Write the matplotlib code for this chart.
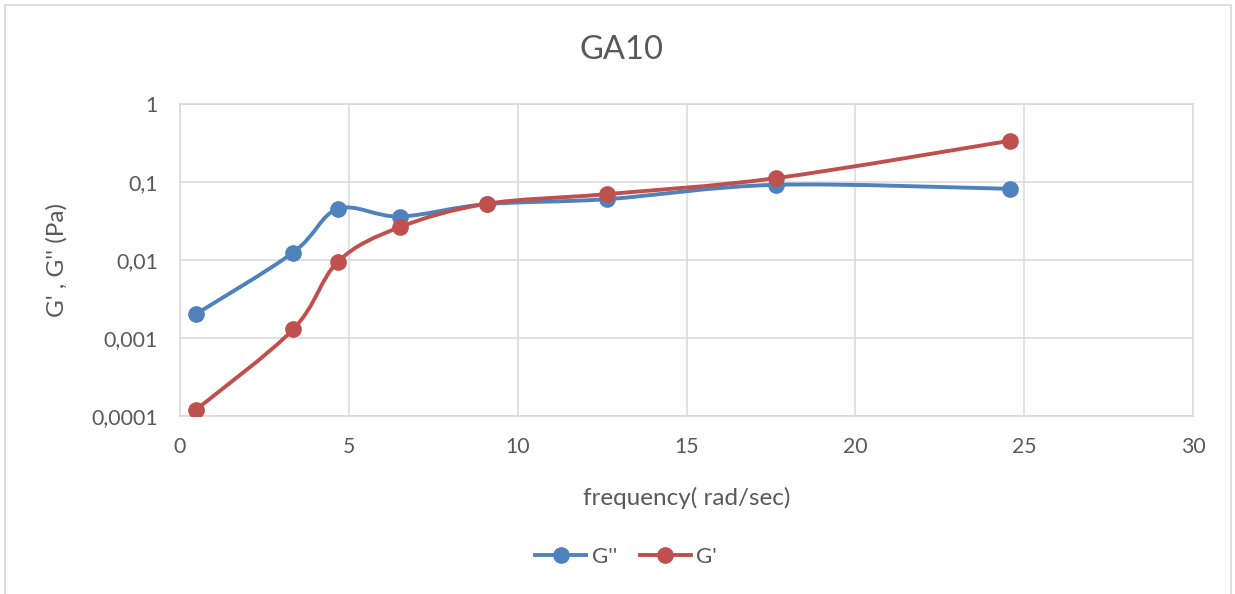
import numpy as np
import matplotlib
matplotlib.use("Agg")
import matplotlib.pyplot as plt
from matplotlib.path import Path
from matplotlib.patches import PathPatch, Rectangle
from matplotlib.lines import Line2D

# data
freq = [0.46, 3.35, 4.68, 6.51, 9.08, 12.65, 17.64, 24.58]
g2 = [0.00201, 0.01245, 0.0453, 0.0361, 0.0520, 0.0603, 0.092, 0.0818]     # G''
g1 = [0.000119, 0.00129, 0.00955, 0.0264, 0.0525, 0.070, 0.112, 0.338]      # G'
yticks = [0.0001, 0.001, 0.01, 0.1, 1]
ytick_labels = ["0,0001", "0,001", "0,01", "0,1", "1"]
xticks = [0, 5, 10, 15, 20, 25, 30]

blue = "#4F81BD"
red = "#C0504D"
grey = "#595959"

plt.rcParams["font.family"] = ["Lato", "DejaVu Sans"]


def smooth_path(x, y):
    # Excel style smoothed line: cubic bezier through points (log y space)
    px = np.array(x, dtype=float)
    py = np.log10(np.array(y, dtype=float))
    n = len(px)
    verts = [(px[0], py[0])]
    codes = [Path.MOVETO]
    for i in range(n - 1):
        i0 = max(i - 1, 0)
        i3 = min(i + 2, n - 1)
        c1 = (px[i] + (px[i + 1] - px[i0]) / 6, py[i] + (py[i + 1] - py[i0]) / 6)
        c2 = (px[i + 1] - (px[i3] - px[i]) / 6, py[i + 1] - (py[i3] - py[i]) / 6)
        verts += [c1, c2, (px[i + 1], py[i + 1])]
        codes += [Path.CURVE4] * 3
    verts = np.array(verts)
    verts[:, 1] = 10 ** verts[:, 1]
    return Path(verts, codes)


fig = plt.figure(figsize=(12.35, 5.94), dpi=100)
ax = fig.add_axes([180 / 1235, 1 - 416 / 594, 1013 / 1235, 312 / 594])

ax.set_yscale("log")
ax.set_xlim(0, 30)
ax.set_ylim(0.0001, 1)
ax.set_yticks(yticks)
ax.set_yticklabels(ytick_labels)
ax.yaxis.set_minor_locator(matplotlib.ticker.NullLocator())
ax.set_xticks(xticks)
ax.tick_params(length=0, labelsize=15.3, colors=grey)
ax.tick_params(axis="y", pad=16)
ax.tick_params(axis="x", pad=15)
ax.grid(True, color="#D9D9D9", lw=1.1)
ax.set_axisbelow(True)
for s in ax.spines.values():
    s.set_color("#D9D9D9")
    s.set_linewidth(1.1)

for ys, col in [(g2, blue), (g1, red)]:
    ax.add_patch(PathPatch(smooth_path(freq, ys), fill=False, edgecolor=col,
                           lw=2.8, capstyle="round", joinstyle="round", zorder=3))
    ax.plot(freq, ys, linestyle="none", marker="o", markersize=11,
            color=col, zorder=4)

ax.set_xlabel("frequency( rad/sec)", fontsize=17.5, color=grey)
ax.set_ylabel("G' , G'' (Pa)", fontsize=17.5, color=grey)
ax.xaxis.set_label_coords(0.5, -0.228)
ax.yaxis.set_label_coords(-0.111, 0.5)

fig.text(0.5 + 0.003, 1 - 50 / 594, "GA10", ha="center", va="center",
         fontsize=23.5, color=grey)

handles = [Line2D([], [], color=blue, lw=2.8, marker="o", markersize=11),
           Line2D([], [], color=red, lw=2.8, marker="o", markersize=11)]
fig.legend(handles, ["G''", "G'"], loc="center", bbox_to_anchor=(0.507, 1 - 557 / 594),
           ncol=2, frameon=False, fontsize=16, labelcolor=grey,
           handlelength=2.3, columnspacing=1.0, handletextpad=0.25)

fig.patches.append(Rectangle((5 / 1235, -0.05), 1226 / 1235, 1.05 - 5 / 594,
                             transform=fig.transFigure, fill=False,
                             edgecolor="#D9D9D9", lw=1.2))

fig.savefig("out.png", dpi=100)
